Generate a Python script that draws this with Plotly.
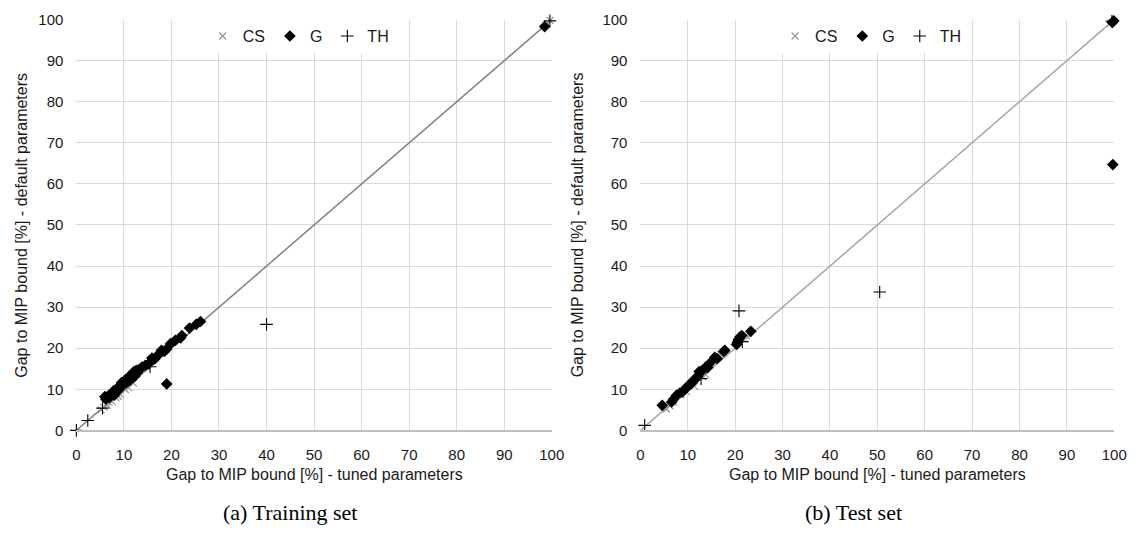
import plotly.graph_objects as go

# ---- (a) Training set: gap to MIP bound [%], tuned (x) vs default (y) ----
train_cs_x = [5.2, 5.8, 6.5, 6.9, 7.5, 8.3, 8.8, 9.3, 10.3, 11.0, 12.0, 99.6]
train_cs_y = [5.0, 5.6, 6.1, 6.8, 7.0, 8.0, 8.3, 8.7, 9.9, 10.4, 11.5, 99.8]

train_g_x = [6.2, 6.6, 7.0, 7.3, 7.6, 8.0, 8.3, 8.6, 9.0, 9.3, 9.7, 10.0, 10.3,
             10.5, 10.8, 11.0, 11.3, 11.6, 12.1, 12.3, 12.8, 13.2, 13.8, 14.5,
             15.2, 15.9, 16.5, 17.2, 17.9, 18.5, 19.0, 19.8, 20.8, 21.9, 22.2,
             23.8, 25.2, 26.1, 19.0, 98.5, 6.0, 7.8, 9.5, 10.9, 11.9, 12.6]
train_g_y = [7.6, 8.3, 8.0, 8.8, 9.1, 8.6, 9.3, 10.3, 10.0, 10.8, 11.1, 11.4, 12.3,
             11.6, 12.6, 13.0, 12.2, 13.4, 14.3, 13.2, 14.0, 14.8, 15.4, 15.8,
             16.2, 17.6, 17.4, 18.4, 19.5, 19.2, 19.8, 21.1, 21.9, 22.5, 23.1,
             24.9, 25.8, 26.5, 11.3, 98.3, 8.2, 9.6, 11.6, 12.0, 12.9, 14.6]

train_th_x = [0.0, 2.4, 5.5, 15.5, 40.0, 99.6]
train_th_y = [0.0, 2.4, 5.4, 15.5, 25.8, 99.7]

# ---- (b) Test set ----
test_cs_x = [5.5, 6.2, 7.0, 8.6, 9.7, 11.4, 13.1, 13.8, 16.9, 22.4, 99.2]
test_cs_y = [5.2, 6.0, 6.8, 8.7, 9.5, 10.7, 13.1, 13.5, 18.5, 23.0, 99.1]

test_g_x = [4.6, 6.6, 7.0, 7.6, 8.3, 8.8, 9.3, 9.8, 10.3, 10.6, 11.0, 11.4, 11.7,
            12.1, 12.4, 13.1, 13.8, 14.2, 14.7, 15.7, 16.2, 17.6, 17.8, 20.3,
            20.5, 20.7, 21.0, 21.4, 23.3, 99.7, 99.6, 99.9]
test_g_y = [6.1, 6.9, 7.6, 8.5, 9.1, 9.3, 9.9, 10.5, 11.1, 11.3, 11.9, 12.3, 12.7,
            13.2, 14.3, 14.6, 15.4, 15.3, 16.4, 17.8, 17.5, 19.2, 19.5, 20.9,
            21.5, 22.1, 22.7, 23.1, 24.1, 64.7, 99.3, 99.7]

test_th_x = [0.9, 12.8, 20.8, 21.5, 50.5, 99.5]
test_th_y = [1.2, 12.6, 29.1, 21.6, 33.7, 99.6]

# reference diagonal y = x
diag = [0, 100]

tick_vals = list(range(0, 101, 10))
x_title = "Gap to MIP bound [%] - tuned parameters"
y_title = "Gap to MIP bound [%] - default parameters"
captions = ["(a) Training set", "(b) Test set"]

FONT = "Liberation Sans, Arial, sans-serif"
TEXT = "#1a1a1a"
GRID = "#d9d9d9"

fig = go.Figure()


def add_panel(xa, ya, legend, line_color, cs, g, th):
    fig.add_trace(go.Scatter(
        x=diag, y=diag, mode="lines", xaxis=xa, yaxis=ya,
        line=dict(color=line_color, width=1.5), showlegend=False,
        hoverinfo="skip"))
    fig.add_trace(go.Scatter(
        x=cs[0], y=cs[1], mode="markers", name="CS", legend=legend,
        xaxis=xa, yaxis=ya, cliponaxis=False,
        marker=dict(symbol="x-thin-open", size=7, color="#969696",
                    line=dict(width=1.2, color="#969696"))))
    fig.add_trace(go.Scatter(
        x=g[0], y=g[1], mode="markers", name="G", legend=legend,
        xaxis=xa, yaxis=ya, cliponaxis=False,
        marker=dict(symbol="diamond", size=9, color="#000000",
                    line=dict(width=0))))
    fig.add_trace(go.Scatter(
        x=th[0], y=th[1], mode="markers", name="TH", legend=legend,
        xaxis=xa, yaxis=ya, cliponaxis=False,
        marker=dict(symbol="cross-thin-open", size=9, color="#000000",
                    line=dict(width=1.1, color="#000000"))))


add_panel("x", "y", "legend", "#808080",
          (train_cs_x, train_cs_y), (train_g_x, train_g_y), (train_th_x, train_th_y))
add_panel("x2", "y2", "legend2", "#a6a6a6",
          (test_cs_x, test_cs_y), (test_g_x, test_g_y), (test_th_x, test_th_y))

ydom = [0.1959, 0.9797]
xdoms = [[0.0641, 0.4852], [0.5637, 0.9834]]

axis_common = dict(
    range=[0, 100], tickvals=tick_vals, showgrid=True, gridcolor=GRID,
    gridwidth=1, zeroline=False, ticks="", fixedrange=True,
    tickfont=dict(family=FONT, size=15, color=TEXT))

fig.update_layout(
    width=1146, height=541,
    margin=dict(l=0, r=0, t=0, b=0),
    paper_bgcolor="white", plot_bgcolor="white",
    font=dict(family=FONT, color=TEXT),
    xaxis=dict(domain=xdoms[0], anchor="y", showline=True, linecolor="#bfbfbf",
               linewidth=1.5, ticklabelstandoff=10, **axis_common),
    yaxis=dict(domain=ydom, anchor="x", showline=False, ticklabelstandoff=12,
               **axis_common),
    xaxis2=dict(domain=xdoms[1], anchor="y2", showline=True, linecolor="#bfbfbf",
                linewidth=1.5, ticklabelstandoff=10, **axis_common),
    yaxis2=dict(domain=ydom, anchor="x2", showline=False, ticklabelstandoff=12,
                **axis_common),
    legend=dict(orientation="h", x=0.261, xanchor="center", y=(541 - 28) / 541,
                yanchor="middle", bgcolor="white",
                font=dict(family=FONT, size=16, color=TEXT)),
    legend2=dict(orientation="h", x=0.768, xanchor="center", y=(541 - 28) / 541,
                 yanchor="middle", bgcolor="white",
                 font=dict(family=FONT, size=16, color=TEXT)),
)

annotations = []
for i, xd in enumerate(xdoms):
    cx = (xd[0] + xd[1]) / 2
    annotations.append(dict(
        text=x_title, xref="paper", yref="paper", x=cx, y=(541 - 481) / 541,
        xanchor="center", yanchor="middle", showarrow=False,
        font=dict(family=FONT, size=16, color=TEXT)))
    yx = [18, 583][i] / 1146
    annotations.append(dict(
        text=y_title, xref="paper", yref="paper", x=yx, y=(ydom[0] + ydom[1]) / 2,
        xanchor="center", yanchor="middle", textangle=-90, showarrow=False,
        font=dict(family=FONT, size=16, color=TEXT)))
    capx = [290, 862][i] / 1146
    annotations.append(dict(
        text=captions[i], xref="paper", yref="paper", x=capx, y=(541 - 520) / 541,
        xanchor="center", yanchor="middle", showarrow=False,
        font=dict(family="Liberation Serif, Times New Roman, serif", size=22,
                  color="#000000")))
fig.update_layout(annotations=annotations)

fig.write_html("out.html")
